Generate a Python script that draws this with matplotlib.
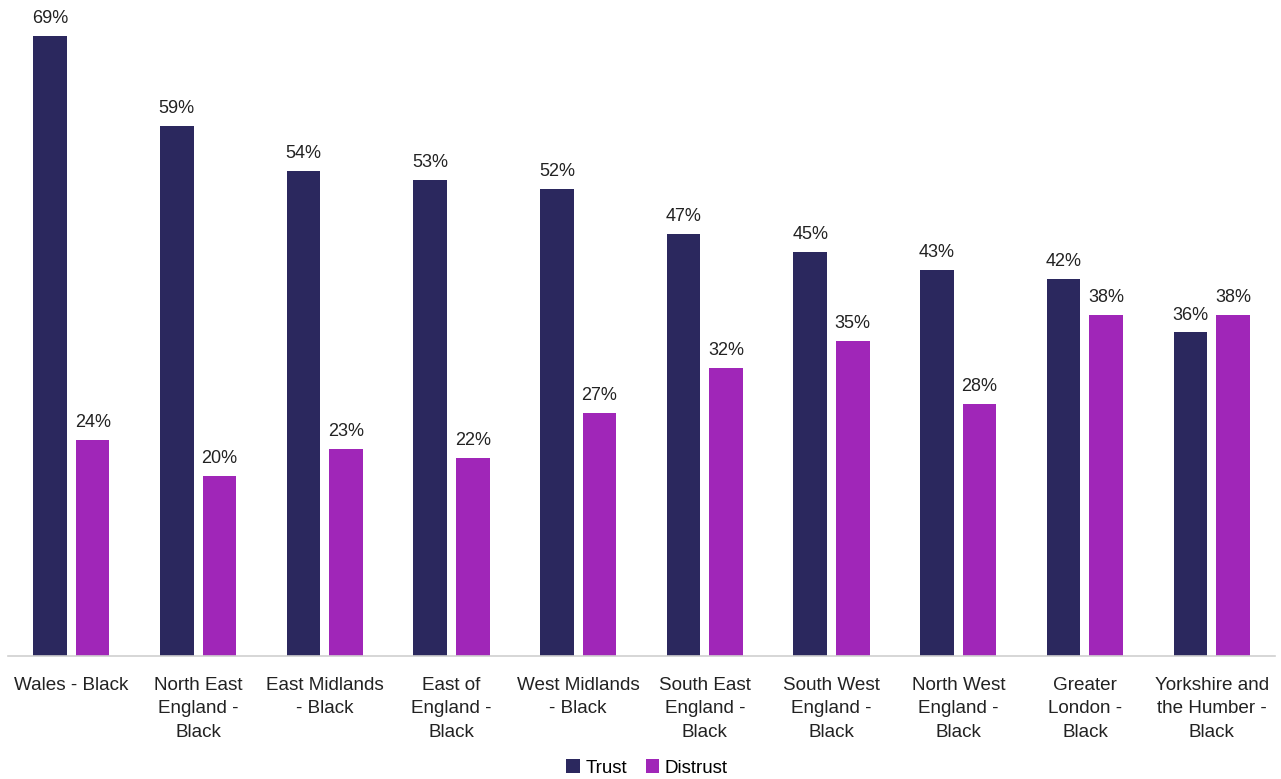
import numpy as np
import matplotlib
matplotlib.use("Agg")
import matplotlib.pyplot as plt

plt.rcParams['font.family'] = ['Liberation Sans', 'DejaVu Sans']

# Data
categories = ["Wales - Black", "North East\nEngland -\nBlack", "East Midlands\n- Black",
              "East of\nEngland -\nBlack", "West Midlands\n- Black", "South East\nEngland -\nBlack",
              "South West\nEngland -\nBlack", "North West\nEngland -\nBlack", "Greater\nLondon -\nBlack",
              "Yorkshire and\nthe Humber -\nBlack"]
trust = [69, 59, 54, 53, 52, 47, 45, 43, 42, 36]
distrust = [24, 20, 23, 22, 27, 32, 35, 28, 38, 38]

TRUST_COL = '#2B285E'
DISTRUST_COL = '#A026B8'

fig = plt.figure(figsize=(12.81, 7.79), dpi=100)
ax = fig.add_axes([8 / 1281, 123 / 779, 1267 / 1281, 656 / 779])

x = np.arange(len(categories))
w = 0.265
off = 0.168
b1 = ax.bar(x - off, trust, w, color=TRUST_COL, label='Trust')
b2 = ax.bar(x + off, distrust, w, color=DISTRUST_COL, label='Distrust')

for bars in (b1, b2):
    for r in bars:
        ax.text(r.get_x() + r.get_width() / 2, r.get_height() + 1.0, f"{int(r.get_height())}%",
                ha='center', va='bottom', fontsize=13, color='#222222')

ax.set_xlim(-0.5, len(categories) - 0.5)
ax.set_ylim(0, 73)
ax.set_xticks(x)
ax.set_xticklabels(categories, fontsize=13.6, color='#222222', linespacing=1.5, va='top')
ax.tick_params(axis='x', length=0, pad=15)
ax.set_yticks([])
for s in ('top', 'right', 'left'):
    ax.spines[s].set_visible(False)
ax.spines['bottom'].set_color('#d0d0d0')
ax.spines['bottom'].set_linewidth(1.2)

fig.legend(handles=[b1, b2], loc='center', bbox_to_anchor=(0.505, 11 / 779), ncol=2, frameon=False,
           fontsize=13.5, handlelength=0.7, handleheight=0.7, handletextpad=0.3, columnspacing=1.0)

fig.savefig('out.png', dpi=100)
